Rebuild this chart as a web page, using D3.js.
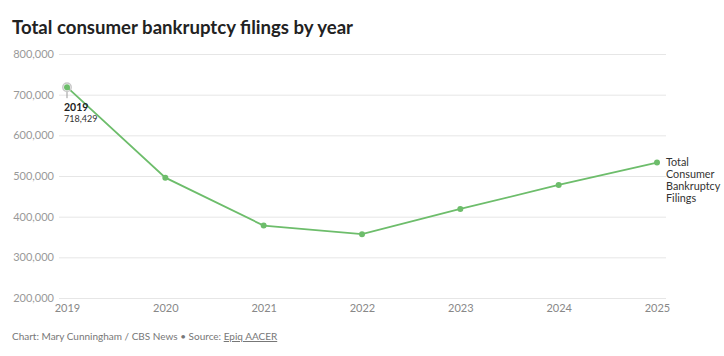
<!DOCTYPE html>
<html><head><meta charset="utf-8">
<script src="https://cdn.jsdelivr.net/npm/d3@7"></script>
<style>body{margin:0;background:#fff;font-family:Lato,"Open Sans",sans-serif;}</style>
</head><body><svg id="c" width="724" height="356"></svg>
<script>
const years = ["2019","2020","2021","2022","2023","2024","2025"];
const filings = [718429, 496000, 378000, 357000, 419000, 478000, 533000];
const yTicks = [200000,300000,400000,500000,600000,700000,800000];
const seriesName = ["Total","Consumer","Bankruptcy","Filings"];

const svg = d3.select("#c");
const font = "Lato, 'Open Sans', sans-serif";
const x = d3.scalePoint().domain(years).range([67,657]);
const y = d3.scaleLinear().domain([200000,800000]).range([298,54]);
const green = "#6dbd6b";

svg.append("text").attr("x",12).attr("y",34).attr("font-family",font)
  .attr("font-weight",700).attr("font-size",18.6).attr("fill","#222")
  .text("Total consumer bankruptcy filings by year");

const ya = svg.append("g").attr("transform","translate(59,0)")
  .call(d3.axisLeft(y).tickValues(yTicks).tickSize(-607).tickFormat(d3.format(",")));
ya.select(".domain").remove();
ya.selectAll(".tick line").attr("stroke","#e6e6e6");
ya.selectAll(".tick text").attr("x",-5).attr("font-family",font).attr("font-size",11).attr("fill","#999");

const xa = svg.append("g").attr("transform","translate(0,298)")
  .call(d3.axisBottom(x).tickSize(0));
xa.select(".domain").remove();
xa.selectAll(".tick text").attr("dy",0).attr("y",14).attr("font-family",font).attr("font-size",11).attr("fill","#888");

const data = years.map((yr,i)=>({yr, v:filings[i]}));
svg.append("path").datum(data)
  .attr("d", d3.line().x(d=>x(d.yr)).y(d=>y(d.v)))
  .attr("fill","none").attr("stroke",green).attr("stroke-width",1.8);

// annotation for first point
svg.append("line").attr("x1",x(years[0])).attr("x2",x(years[0]))
  .attr("y1",y(filings[0])+4).attr("y2",y(filings[0])+11).attr("stroke","#999").attr("stroke-width",1);
svg.append("circle").attr("cx",x(years[0])).attr("cy",y(filings[0])).attr("r",4.2)
  .attr("fill","none").attr("stroke","#c8c8c8").attr("stroke-width",1.5);

svg.selectAll("circle.pt").data(data).join("circle").attr("class","pt")
  .attr("cx",d=>x(d.yr)).attr("cy",d=>y(d.v)).attr("r",3).attr("fill",green);

svg.append("text").attr("x",64).attr("y",111).attr("font-family",font).attr("font-weight",700)
  .attr("font-size",10.5).attr("fill","#222").text(years[0]);
svg.append("text").attr("x",64).attr("y",122).attr("font-family",font)
  .attr("font-size",9).attr("fill","#333").text(d3.format(",")(filings[0]));

const lbl = svg.append("text").attr("font-family",font).attr("font-size",10.8).attr("fill","#333");
seriesName.forEach((s,i)=>{
  lbl.append("tspan").attr("x",666).attr("y",y(filings[6])+3 + i*12).text(s);
});

const foot = svg.append("text").attr("x",12).attr("y",340).attr("font-family",font)
  .attr("font-size",10).attr("fill","#777");
foot.append("tspan").text("Chart: Mary Cunningham / CBS News • Source: ");
foot.append("tspan").attr("text-decoration","underline").text("Epiq AACER");
</script></body></html>
